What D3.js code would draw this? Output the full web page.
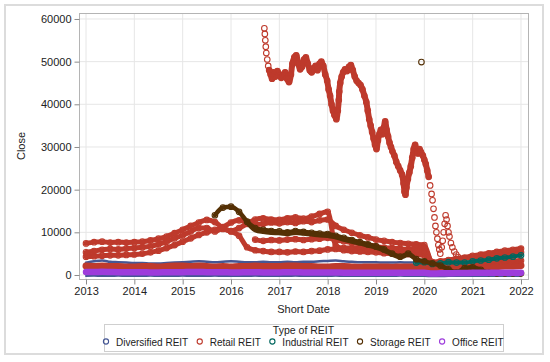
<!DOCTYPE html>
<html>
<head>
<meta charset="utf-8">
<script src="https://cdn.jsdelivr.net/npm/d3@7"></script>
<style>
  body { margin: 0; background: #fff; }
  text { font-family: "Liberation Sans", Arial, sans-serif; fill: #222; }
</style>
</head>
<body>
<script>
// groups and colours (SAS HTMLBlue style order)
const groups = ["Diversified REIT", "Retail REIT", "Industrial REIT", "Storage REIT", "Office REIT"];
const colors = ["#445694", "#BE3A2C", "#01665E", "#543005", "#9D3CDB"];

const yearTicks = [2013, 2014, 2015, 2016, 2017, 2018, 2019, 2020, 2021, 2022];
const closeTicks = [0, 10000, 20000, 30000, 40000, 50000, 60000];

// bimonthly closes (Jan, Mar, May, Jul, Sep, Nov per year)
const retailA = [
  7400, 7700, 7800, 7600, 7700, 7600,
  7700, 7800, 8100, 8500, 9000, 9800,
  10600, 11500, 12300, 12900, 12400, 11000,
  10300, 11000, 12000, 13000, 13300, 13000,
  12900, 13300, 13500, 13200, 13700, 14300,
  14800, 6800, 6300, 6300, 6400, 6100,
  6000, 6200, 6300, 6100, 6000, 6400,
  6200, 3000, 3200, 3500, 3800, 4100,
  4500, 4800, 5100, 5400, 5700, 5900,
  6200
];
const retailB = [
  5300, 5600, 5900, 6100, 6000, 6200,
  6300, 6500, 6700, 7200, 7800, 8600,
  9300, 10200, 11000, 11000, 10200, 11200,
  12300, 12800, 12300, 11800, 12000, 12300,
  12100, 12400, 12200, 12600, 12400, 12800,
  13000, 11500, 10600, 9900, 9300, 8800,
  8300, 8000, 7700, 7500, 7300, 7200,
  7000, 2700, 3000, 3300, 3600, 3900,
  4100, 4300, 4500, 4700, 4900, 5100,
  5300
];
const retailC = [
  4300, 4400, 4500, 4600, 4600, 4700,
  4800, 5000, 5300, 5700, 6300, 7000,
  7800, 8600, 9400, 10000, 10600, 10800,
  10200, 9200, 6500, 5800, 5600, 5400,
  5400, 5300, 5500, 5400, 5600, 5700,
  6000, 6100, 5800, 5600, 5500, 5400,
  5300, 5100, 5000, 5100, 4900, 4800,
  4600, 2200, 2000, 2300, 2500, 2600,
  2700, 2900, 3000, 3100, 3200, 3300,
  3400
];
const retailDStart = 2016.5;
const retailD = [
  8300, 8000, 8200,
  8100, 8300, 8400, 8200, 8400, 8500,
  8700, 8200, 7900, 7600, 7300, 7000,
  6700, 6400, 6200, 6000, 5800, 5600,
  5400
];
const retailLow = [
  2100, 2000, 2100, 2000, 2000, 1900,
  1900, 2000, 2000, 1900, 2000, 2100,
  2100, 2000, 2100, 2000, 1900, 2000,
  1900, 2000, 2000, 2100, 2000, 2000,
  2000, 2100, 2100, 2000, 2000, 1900,
  1900, 2000, 2000, 1900, 1800, 1900,
  1900, 1900, 1800, 1900, 1900, 1800,
  1800, 1500, 1600, 1700, 1800, 1800,
  1900, 1900, 2000, 2000, 2100, 2100,
  2200
];
const divTop = [
  2900, 3200, 3400, 3100, 3000, 2900,
  2800, 2800, 2700, 2700, 2800, 2900,
  3000, 3100, 3200, 3100, 3000, 3100,
  3200, 3100, 3000, 3000, 3100, 3000,
  3000, 3100, 3000, 3100, 3100, 3200,
  3300, 3400, 3200, 3100, 3000, 3000,
  3000, 2900, 2900, 3000, 2900, 2900,
  2900, 2400, 2300, 2400, 2400, 2500,
  2600, 2700, 2800, 2900, 2900, 3000,
  3100
];
const divBottom = [
  -250, -200, -250, -250, -200, -250,
  -250, -250, -200, -250, -250, -250,
  -200, -250, -250, -250, -200, -250,
  -250, -250, -250, -200, -250, -250,
  -250, -250, -200, -250, -250, -250,
  -250, -200, -250, -250, -250, -250,
  -250, -250, -250, -200, -250, -250,
  -250, -300, -300, -250, -250, -250,
  -250, -250, -250, -250, -250, -250,
  -250
];
const office = [
  700, 700, 750, 700, 650, 650,
  650, 650, 600, 600, 650, 650,
  650, 700, 700, 650, 650, 650,
  600, 600, 650, 650, 600, 600,
  600, 650, 650, 600, 600, 600,
  600, 600, 550, 550, 550, 550,
  550, 550, 550, 550, 500, 500,
  500, 350, 400, 400, 450, 450,
  500, 500, 500, 550, 550, 550,
  550
];
const industrialStart = 2019 + 5 / 6;
const industrial = [2900, 3000, 2600, 2700, 3000, 2900, 2900, 3200, 3400, 3600, 3900, 4100, 4300, 4600];
const storageAStart = 2015 + 4 / 6;
const storageA = [
  14000, 15800,
  16000, 14800, 12500, 11000, 10600, 10300,
  10200, 10000, 10300, 10100, 9900, 9700,
  9600, 9200, 8700, 8200, 7700, 7200,
  6700, 6000, 5000, 4300, 5000, 3700,
  3200, 2700, 2200, 1300, 600, 1600,
  1800, 1200, 500, 400, 400, 400,
  400
];
const storageBStart = 2016 + 2 / 6;
const storageB = [
  12100, 10400, 10000, 9800,
  9700, 9500, 9800, 9600, 9400, 9200,
  9100, 8700, 8200, 7700, 7300, 6800,
  6300, 5600, 4700, 4000, 4600, 3400
];
const storageOutlier = [[2019.94, 49900]];

// the one high-priced retail stock, [year, close]
const retailBig = [
  [2016.69, 57800], [2016.70, 56500], [2016.71, 55000], [2016.72, 53500], [2016.73, 52000],
  [2016.75, 50500], [2016.77, 49000], [2016.79, 48000], [2016.82, 47000], [2016.85, 46000],
  [2016.88, 47500], [2016.92, 46500], [2016.96, 47800], [2017.00, 47000], [2017.04, 46200],
  [2017.08, 46800], [2017.12, 47500], [2017.16, 46000], [2017.20, 45200], [2017.24, 47000],
  [2017.27, 49500], [2017.31, 51000], [2017.35, 51500], [2017.39, 49500], [2017.43, 48200],
  [2017.47, 48800], [2017.51, 50500], [2017.55, 51000], [2017.59, 49500], [2017.63, 48000],
  [2017.67, 47500], [2017.71, 48500], [2017.75, 49000], [2017.79, 48000], [2017.83, 49500],
  [2017.87, 50000], [2017.91, 49000], [2017.95, 47000], [2017.99, 45500], [2018.02, 43500],
  [2018.05, 42000], [2018.08, 40000], [2018.11, 38500], [2018.14, 37500], [2018.18, 36500],
  [2018.21, 38500], [2018.23, 41000], [2018.24, 43000], [2018.26, 45000], [2018.29, 46500],
  [2018.32, 47500], [2018.36, 48200], [2018.40, 47800], [2018.44, 48800], [2018.48, 49200],
  [2018.52, 48000], [2018.56, 46500], [2018.60, 45500], [2018.64, 45000], [2018.68, 44500],
  [2018.72, 43500], [2018.76, 42000], [2018.80, 40500], [2018.83, 38500], [2018.86, 36500],
  [2018.89, 35000], [2018.92, 33500], [2018.95, 32000], [2018.98, 30500], [2019.01, 29500],
  [2019.04, 31500], [2019.07, 33000], [2019.10, 34000], [2019.13, 33000], [2019.16, 34500],
  [2019.19, 36000], [2019.22, 34000], [2019.25, 32500], [2019.28, 31000], [2019.31, 30000],
  [2019.34, 29000], [2019.38, 28000], [2019.42, 26500], [2019.46, 25500], [2019.50, 24500],
  [2019.54, 23500], [2019.57, 21500], [2019.59, 19500], [2019.61, 18800], [2019.63, 20500],
  [2019.66, 22500], [2019.69, 24000], [2019.72, 25500], [2019.75, 27500], [2019.78, 29500],
  [2019.81, 30500], [2019.84, 29000], [2019.87, 28500], [2019.90, 29500], [2019.93, 28800],
  [2019.97, 28000], [2020.00, 27000], [2020.03, 26000], [2020.06, 24500], [2020.09, 23000],
  [2020.12, 21000], [2020.15, 19000], [2020.17, 17500], [2020.19, 15500], [2020.21, 13500],
  [2020.23, 11500], [2020.25, 10000], [2020.27, 8500], [2020.29, 7000], [2020.31, 6000],
  [2020.33, 5000], [2020.36, 6500], [2020.38, 8000], [2020.40, 10000], [2020.42, 12000],
  [2020.44, 14000], [2020.46, 13000], [2020.48, 11500], [2020.50, 10000], [2020.52, 9000],
  [2020.55, 7500], [2020.58, 6500], [2020.62, 5500], [2020.66, 4800], [2020.70, 4200],
  [2020.75, 3800]
];
// the stretch of it traded densely enough to read as a solid band
const retailBigDense = retailBig.filter(d => d[0] >= 2016.79 && d[0] <= 2020.1);

// turn a bimonthly value list into [year, close] points
function bimonthly(start, values) {
  return values.map((v, i) => [start + i / 6, v]);
}

// drawing order follows group order, purple last
const series = [
  { g: 0, pts: bimonthly(2013, divBottom), w: 2, dots: false },
  { g: 0, pts: bimonthly(2013, divTop), w: 2.5, dots: false },
  { g: 1, pts: bimonthly(2013, retailLow), w: 7, dots: false },
  { g: 1, pts: bimonthly(2013, retailC), w: 5, dots: true },
  { g: 1, pts: bimonthly(2013, retailB), w: 5, dots: true },
  { g: 1, pts: bimonthly(2013, retailA), w: 5, dots: true },
  { g: 1, pts: bimonthly(retailDStart, retailD), w: 5, dots: true },
  { g: 1, pts: retailBigDense, w: 6, dots: false },
  { g: 1, pts: retailBig, w: 0, dots: true },
  { g: 2, pts: bimonthly(industrialStart, industrial), w: 4, dots: true },
  { g: 3, pts: bimonthly(storageAStart, storageA), w: 4.5, dots: true },
  { g: 3, pts: bimonthly(storageBStart, storageB), w: 3.5, dots: false },
  { g: 3, pts: storageOutlier, w: 0, dots: true },
  { g: 4, pts: bimonthly(2013, office), w: 6.5, dots: false }
];

const W = 550, H = 362;
const plot = { left: 79, right: 528, top: 13, bottom: 279 };

const svg = d3.select("body").append("svg")
  .attr("width", W)
  .attr("height", H);

// outer frame
svg.append("rect")
  .attr("x", 5).attr("y", 5)
  .attr("width", 538).attr("height", 349)
  .attr("fill", "none")
  .attr("stroke", "#dcdcdc")
  .attr("stroke-width", 2);

const x = d3.scaleLinear().domain([2012.855, 2022.145]).range([plot.left, plot.right]);
const y = d3.scaleLinear().domain([-940, 61400]).range([plot.bottom, plot.top]);

// grid
const grid = svg.append("g");
grid.selectAll(".vg").data(yearTicks).join("line")
  .attr("x1", d => x(d)).attr("x2", d => x(d))
  .attr("y1", plot.top).attr("y2", plot.bottom)
  .attr("stroke", "#e6e6e6");
grid.selectAll(".hg").data(closeTicks).join("line")
  .attr("x1", plot.left).attr("x2", plot.right)
  .attr("y1", d => y(d)).attr("y2", d => y(d))
  .attr("stroke", "#e6e6e6");

svg.append("clipPath").attr("id", "clip")
  .append("rect")
  .attr("x", plot.left).attr("y", plot.top)
  .attr("width", plot.right - plot.left).attr("height", plot.bottom - plot.top);

const marks = svg.append("g").attr("clip-path", "url(#clip)");
const line = d3.line().x(d => x(d[0])).y(d => y(d[1])).curve(d3.curveMonotoneX);

series.forEach(s => {
  const c = colors[s.g];
  if (s.w > 0) {
    marks.append("path")
      .attr("d", line(s.pts))
      .attr("fill", "none")
      .attr("stroke", c)
      .attr("stroke-width", s.w)
      .attr("stroke-linejoin", "round")
      .attr("stroke-linecap", "round");
  }
  if (s.dots) {
    marks.append("g").selectAll("circle").data(s.pts).join("circle")
      .attr("cx", d => x(d[0]))
      .attr("cy", d => y(d[1]))
      .attr("r", s.w > 0 ? 2.8 : 2.8)
      .attr("fill", "none")
      .attr("stroke", c)
      .attr("stroke-width", 1.1);
  }
});

// plot frame
svg.append("rect")
  .attr("x", plot.left + 0.5).attr("y", plot.top + 0.5)
  .attr("width", plot.right - plot.left).attr("height", plot.bottom - plot.top)
  .attr("fill", "none")
  .attr("stroke", "#b4b4b4");

// axes
const yAxis = svg.append("g")
  .attr("transform", `translate(${plot.left + 0.5},0)`)
  .call(d3.axisLeft(y).tickValues(closeTicks).tickSize(5).tickPadding(3).tickFormat(d3.format("d")));
const xAxis = svg.append("g")
  .attr("transform", `translate(0,${plot.bottom + 0.5})`)
  .call(d3.axisBottom(x).tickValues(yearTicks).tickSize(5).tickPadding(3).tickFormat(d3.format("d")));
[yAxis, xAxis].forEach(a => {
  a.select(".domain").remove();
  a.selectAll(".tick line").attr("stroke", "#8c8c8c");
  a.selectAll(".tick text").attr("font-size", 11).attr("fill", "#222")
    .style("font-family", '"Liberation Sans", Arial, sans-serif');
});

// axis titles
svg.append("text")
  .attr("transform", `translate(25,${(plot.top + plot.bottom) / 2}) rotate(-90)`)
  .attr("text-anchor", "middle")
  .attr("font-size", 11)
  .text("Close");
svg.append("text")
  .attr("x", (plot.left + plot.right) / 2)
  .attr("y", 313)
  .attr("text-anchor", "middle")
  .attr("font-size", 11)
  .text("Short Date");

// legend
const lg = svg.append("g");
lg.append("rect")
  .attr("x", 104.5).attr("y", 324.5)
  .attr("width", 399).attr("height", 27)
  .attr("fill", "none")
  .attr("stroke", "#cfcfcf");
lg.append("text")
  .attr("x", 303.5).attr("y", 334)
  .attr("text-anchor", "middle")
  .attr("font-size", 10.5)
  .text("Type of REIT");

const items = lg.append("g");
let cx = 0;
groups.forEach((name, i) => {
  items.append("circle")
    .attr("cx", cx).attr("cy", 341.5)
    .attr("r", 2.6)
    .attr("fill", "none")
    .attr("stroke", colors[i])
    .attr("stroke-width", 1.1);
  const t = items.append("text")
    .attr("x", cx + 10).attr("y", 345.5)
    .attr("font-size", 10)
    .text(name);
  cx += 10 + t.node().getComputedTextLength() + 11.5;
});
const bb = items.node().getBBox();
items.attr("transform", `translate(${303.5 - (bb.x + bb.width / 2)},0)`);
</script>
</body>
</html>
